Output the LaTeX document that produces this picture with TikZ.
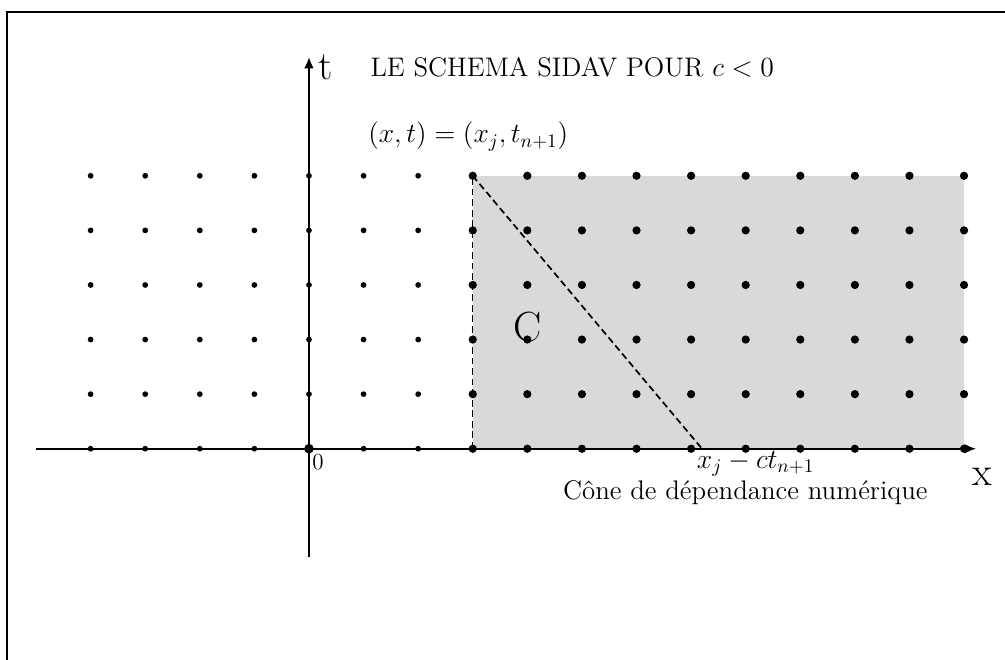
\documentclass[tikz,border=0pt]{standalone}
\usepackage{tikz}
\usetikzlibrary{arrows.meta}

\begin{document}
\begin{tikzpicture}[x=1cm, y=1cm]
    % Styles
    \tikzstyle{axis} = [draw, -{Latex[length=6pt, width=5pt]}, black]
    \tikzstyle{smalldot} = [circle, fill=black, inner sep=0pt, minimum size=3pt]
    \tikzstyle{bigdot} = [circle, fill=black, inner sep=0pt, minimum size=4.3pt]
    \tikzstyle{label} = [inner sep=0pt, font=\fontsize{14}{17}\selectfont]
    \tikzstyle{biglabel} = [inner sep=0pt, font=\fontsize{21}{25}\selectfont]
    \tikzstyle{conedash} = [dash pattern=on 3.5pt off 2pt]

    \useasboundingbox (-5.66,-3.86) rectangle (12.75,8.22);
    \draw [line width=1pt] (-5.53,-5) rectangle (14,8.0);

    % Cone
    \fill [gray!30] (3,0) rectangle (12,5);
    \coordinate (apex) at (3,5);
    \coordinate (foot) at (7.2,0);
    \coordinate (base) at (3,0);
    \draw [conedash, line width=0.9pt] (apex) -- (foot);
    \draw [conedash, line width=0.5pt] (base) -- (apex);

    % Axes
    \coordinate (xstart) at (-5.0,0);
    \coordinate (xend) at (12.22,0);
    \coordinate (tstart) at (0,-1.98);
    \coordinate (tend) at (0,7.18);
    \path [axis, line width=0.9pt] (xstart) -- (xend);
    \path [axis, line width=1.4pt] (tstart) -- (tend);

    % Grid of points
    \foreach \i in {-4,...,2}
        \foreach \j in {0,...,5}
            \node [smalldot] at (\i,\j) {};
    \foreach \i in {3,...,12}
        \foreach \j in {0,...,5}
            \node [bigdot] at (\i,\j) {};
    \node [bigdot, minimum size=5pt] (origin) at (0,0) {};

    % Labels
    \node [biglabel] (tlab) at (0.3,6.98) {t};
    \node [biglabel] (xlab) at (12.33,-0.51) {x};
    \node [label, anchor=base west] (title) at (1.12,6.81) {LE SCHEMA SIDAV POUR $c<0$};
    \node [label, anchor=west] (point) at (1.08,5.72) {$(x,t)=(x_j,t_{n+1})$};
    \node [label, font=\fontsize{12}{14}\selectfont] (zero) at (0.165,-0.25) {0};
    \node [biglabel, font=\fontsize{22}{26}\selectfont] (cone) at (4.0,2.22) {C};
    \node [label, anchor=west] (footlab) at (7.1,-0.27) {$x_j-ct_{n+1}$};
    \node [label, anchor=base east] (caption) at (11.34,-0.93) {C\^one de d\'ependance num\'erique};
\end{tikzpicture}
\end{document}
